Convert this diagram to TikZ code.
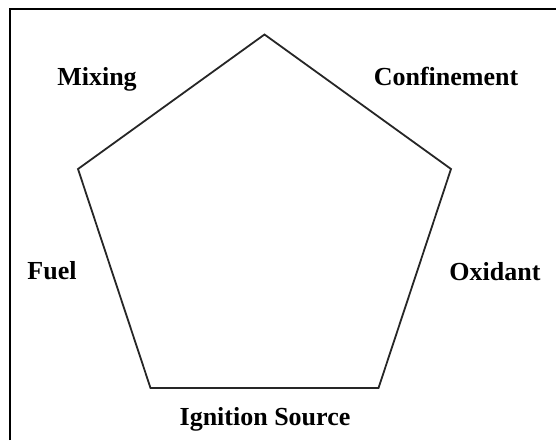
\documentclass[tikz,border=0pt]{standalone}
\usepackage{fontspec}
\setmainfont{Liberation Serif}
\begin{document}
\begin{tikzpicture}[x=1pt,y=-1pt,
  lbl/.style={font=\fontsize{26}{30}\selectfont\bfseries, anchor=base, inner sep=0pt},
  edge/.style={line width=1.8pt, draw=black!85, line join=miter}]
\useasboundingbox (0,0) rectangle (556,440);
\draw[line width=2.2pt] (10,440) -- (10,9) -- (556,9);
\coordinate (t) at (264.5,34.5);
\coordinate (r) at (451,169);
\coordinate (br) at (378.5,388);
\coordinate (bl) at (150.5,388);
\coordinate (l) at (78,169);
\draw[edge] (t) -- (r) -- (br) -- (bl) -- (l) -- cycle;
\node[lbl] (mix) at (97,85) {Mixing};
\node[lbl] (conf) at (446,85) {Confinement};
\node[lbl] (fuel) at (52,279) {Fuel};
\node[lbl] (oxi) at (495,280) {Oxidant};
\node[lbl] (ign) at (265,425) {Ignition Source};
\end{tikzpicture}
\end{document}
